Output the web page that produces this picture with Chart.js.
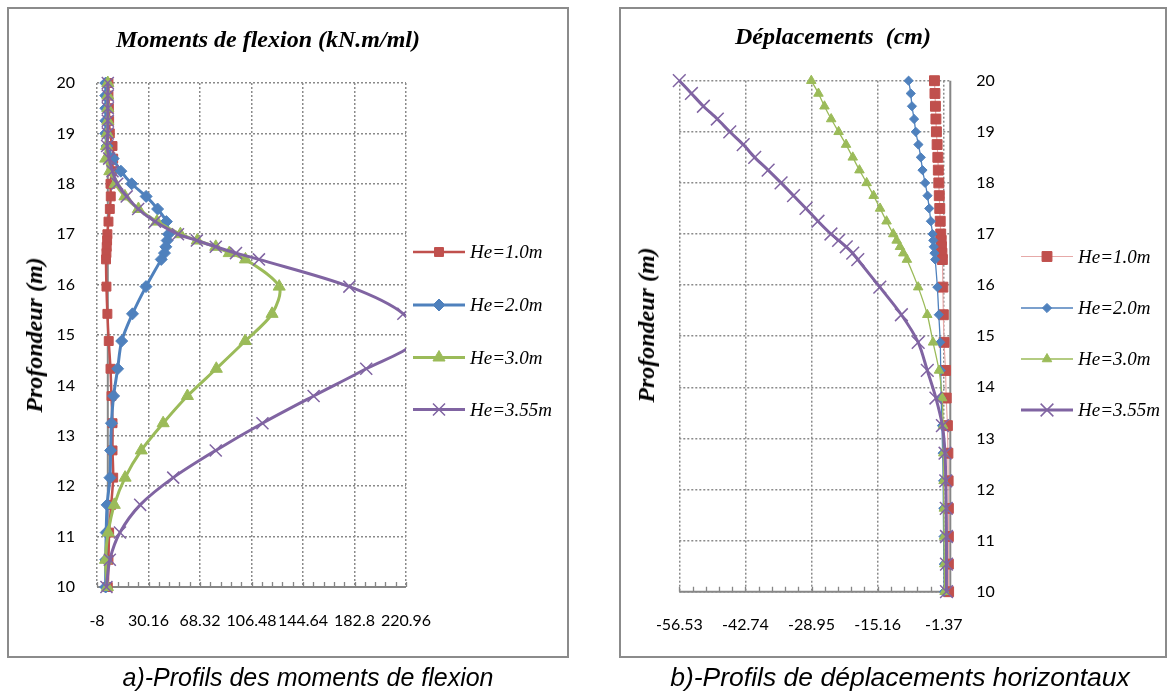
<!DOCTYPE html>
<html>
<head>
<meta charset="utf-8">
<script src="https://cdn.jsdelivr.net/npm/chart.js@4.4.1/dist/chart.umd.min.js"></script>
<style>
  body { margin: 0; background: #fff; width: 1171px; height: 693px; overflow: hidden; position: relative; }
  .box { position: absolute; border: 2px solid #8b8b8b; box-sizing: border-box; }
  canvas { position: absolute; top: 0; }
  .ttl { position: absolute; font: italic bold 24px "Liberation Serif", serif; line-height: 24px; white-space: pre; color: #000; }
  .ytl { position: absolute; font: italic bold 24px "Liberation Serif", serif; line-height: 24px; white-space: pre; color: #000;
         transform: translate(-50%, -50%) rotate(-90deg); }
  .cap { position: absolute; font-family: "Liberation Sans", Arial, sans-serif; font-style: italic; line-height: 28px;
         white-space: pre; color: #000; transform: translate(-50%, -50%); }
</style>
</head>
<body>
<div class="box" style="left:7px;top:7px;width:562px;height:651px;"></div>
<div class="box" style="left:619px;top:7px;width:548px;height:651px;"></div>

<canvas id="moments" width="600" height="693" style="left:0px;"></canvas>
<canvas id="disp" width="571" height="693" style="left:600px;"></canvas>

<div class="ttl" style="left:116px;top:27px;">Moments de flexion (kN.m/ml)</div>
<div class="ttl" style="left:735px;top:24px;">Déplacements  (cm)</div>
<div class="ytl" style="left:34px;top:335px;">Profondeur (m)</div>
<div class="ytl" style="left:646px;top:325px;">Profondeur (m)</div>
<div class="cap" style="left:308px;top:677px;font-size:25px;">a)-Profils des moments de flexion</div>
<div class="cap" style="left:900px;top:677px;font-size:26.5px;">b)-Profils de déplacements horizontaux</div>

<script>
// profondeur (m), commune aux deux graphiques
const depth = [20, 19.75, 19.5, 19.25, 19, 18.75, 18.5, 18.25, 18, 17.75, 17.5, 17.25, 17,
               16.875, 16.75, 16.625, 16.5, 15.96, 15.42, 14.88, 14.33, 13.79, 13.25,
               12.71, 12.17, 11.63, 11.08, 10.54, 10];

const seriesNames = ['He=1.0m', 'He=2.0m', 'He=3.0m', 'He=3.55m'];

// moments de flexion (kN.m/ml)
const momentHe10  = [0.5, 0.5, 0.8, 1, 1.5, 3.5, 4, 3, 2, 2.2, 1.5, 0.5, -0.3,
                     -0.5, -0.8, -1, -1.3, -1, -0.3, 0.7, 2, 2.7, 3.5, 3.5, 4, 2.5, 1, 0.5, 0];
const momentHe20  = [-1.5, -1.5, -1.5, -1.5, -1.5, -0.5, 4, 9.7, 17.7, 28.4, 36.9, 43.4, 45,
                     44, 43, 42, 39.6, 28.3, 18.3, 10.3, 7.3, 4.3, 2.7, 2.1, 1.6, -0.5, -1.2, -1.5, -1.6];
const momentHe30  = [0, 0, 0, 0, -0.5, -1, -1.5, 1.5, 5.5, 12.7, 22.7, 36.4, 53.8,
                     66.3, 80, 90, 102, 127, 121.7, 101.8, 80.4, 59, 41, 24.8, 12.8, 4.8, 0.3, -1.7, -0.3];
const momentHe355 = [0, 0, 0, 0, 0, -0.5, 1, 3.5, 7, 14, 22.5, 35, 52,
                     66, 80, 95, 112, 179, 219, 228, 191.5, 152.5, 114.6, 80, 48.5, 24, 9, 1.5, -1];

// déplacements (cm)
const dispHe10  = [-3.3, -3.2, -3.1, -3, -2.9, -2.75, -2.6, -2.5, -2.4, -2.3, -2.2, -2.1, -2,
                   -1.9, -1.85, -1.75, -1.65, -1.55, -1.45, -1.3, -1, -0.85, -0.6, -0.5, -0.45, -0.4, -0.4, -0.4, -0.35];
const dispHe20  = [-8.7, -8.25, -8, -7.55, -7.2, -6.65, -6.15, -5.8, -5.25, -4.75, -4.4, -4.05, -3.7,
                   -3.55, -3.45, -3.3, -3.15, -2.7, -2.4, -2.1, -2, -1.9, -1.75, -1.6, -1.5, -1.45, -1.4, -1.35, -1.3];
const dispHe30  = [-29, -27.5, -26.25, -24.85, -23.3, -21.75, -20.35, -18.95, -17.45, -16, -14.65, -13.3, -11.9,
                   -11.2, -10.5, -9.8, -9.05, -6.7, -4.8, -3.6, -2.35, -1.7, -1.5, -1.45, -1.4, -1.35, -1.3, -1.25, -1.2];
const dispHe355 = [-56.53, -54, -51.5, -48.6, -46, -43.2, -40.8, -38, -35.3, -32.7, -30.1, -27.6, -24.9,
                   -23.3, -21.7, -20.35, -19.3, -14.7, -10.2, -6.7, -4.8, -3, -1.65, -1.1, -0.95, -0.85, -0.8, -0.8, -0.8];

// graduations
const depthTicks = [10, 11, 12, 13, 14, 15, 16, 17, 18, 19, 20];
const momentTicks = [-8, 30.16, 68.32, 106.48, 144.64, 182.8, 220.96];
const momentTickLabels = ['-8', '30.16', '68.32', '106.48', '144.64', '182.8', '220.96'];
const dispTicks = [-56.53, -42.74, -28.95, -15.16, -1.37];
const dispTickLabels = ['-56.53', '-42.74', '-28.95', '-15.16', '-1.37'];

const RED = '#C0504D', BLUE = '#4F81BD', GREEN = '#9BBB59', PURPLE = '#8064A2';
const AXIS = '#868686', GRID = '#8a8a8a';

Chart.defaults.font.family = 'Lato, "Open Sans", sans-serif';
Chart.defaults.color = '#000';

// axes pleins, petites graduations et légende (ligne + marqueur)
const decor = {
  id: 'decor',
  beforeDatasetsDraw(chart, args, o) {
    const {ctx, chartArea: a, scales: {x}} = chart;
    ctx.save();
    ctx.strokeStyle = AXIS;
    ctx.lineWidth = 2;
    ctx.beginPath();
    ctx.moveTo(a.left, a.bottom);
    ctx.lineTo(a.right, a.bottom);
    const px = x.getPixelForValue(o.axisAt);
    ctx.moveTo(px, a.top);
    ctx.lineTo(px, a.bottom);
    ctx.stroke();
    // minor ticks
    const t = x.ticks.map(k => k.value);
    const step = (t[1] - t[0]) / 5;
    ctx.lineWidth = 1.3;
    ctx.beginPath();
    for (let v = t[0]; v <= t[t.length - 1] + 1e-6; v += step) {
      const p = Math.round(x.getPixelForValue(v)) + 0.5;
      ctx.moveTo(p, a.bottom);
      ctx.lineTo(p, a.bottom - 5);
    }
    ctx.stroke();
    ctx.restore();
  },
  afterDraw(chart, args, o) {
    const ctx = chart.ctx;
    ctx.save();
    chart.data.datasets.forEach((ds, i) => {
      const y = o.legendY[i];
      ctx.strokeStyle = ds.borderColor;
      ctx.lineWidth = ds.borderWidth;
      ctx.beginPath();
      ctx.moveTo(o.legendX, y);
      ctx.lineTo(o.legendX + o.legendLen, y);
      ctx.stroke();
      ctx.fillStyle = ds.pointBackgroundColor;
      ctx.strokeStyle = ds.pointBorderColor;
      ctx.lineWidth = ds.pointBorderWidth;
      Chart.helpers.drawPoint(ctx, {pointStyle: ds.pointStyle, radius: ds.pointRadius, rotation: 0,
                                    borderWidth: ds.pointBorderWidth}, o.legendX + o.legendLen / 2, y);
      ctx.fillStyle = '#000';
      ctx.font = 'italic 19px "Liberation Serif", serif';
      ctx.textBaseline = 'middle';
      ctx.textAlign = 'left';
      ctx.fillText(ds.label, o.legendX + o.legendLen + 5, y + 1);
    });
    ctx.restore();
  }
};

function makeSet(label, vals, color, lineColor, lineW, style, r, bw, order, clip) {
  return {
    label: label,
    data: vals.map((v, i) => ({x: v, y: depth[i]})),
    showLine: true,
    borderColor: lineColor,
    borderWidth: lineW,
    backgroundColor: color,
    pointStyle: style,
    pointRadius: r,
    pointHoverRadius: r,
    pointBackgroundColor: color,
    pointBorderColor: color,
    pointBorderWidth: bw,
    tension: 0.3,
    order: order,
    clip: clip
  };
}

function xScale(ticksArr, labels, min, max, h) {
  return {
    type: 'linear', min: min, max: max,
    border: {display: false, dash: [2, 2]},
    grid: {color: GRID, lineWidth: 1.5, drawTicks: false},
    ticks: {autoSkip: false, maxRotation: 0, minRotation: 0, padding: 24, font: {size: 16},
            callback: (v, i) => labels[i]},
    afterBuildTicks: s => { s.ticks = ticksArr.map(v => ({value: v})); },
    afterFit: s => { s.height = h; }
  };
}

function yScale(pos, pad, w) {
  return {
    type: 'linear', position: pos, min: 10, max: 20,
    border: {display: false, dash: [2, 2]},
    grid: {color: GRID, lineWidth: 1.5, drawTicks: false},
    ticks: {padding: pad, font: {size: 16}, callback: (v, i) => String(depthTicks[i])},
    afterBuildTicks: s => { s.ticks = depthTicks.map(v => ({value: v})); },
    afterFit: s => { s.width = w; }
  };
}

// a) moments de flexion
const clipM = {left: 12, top: 12, right: 0, bottom: 12};
new Chart(document.getElementById('moments'), {
  type: 'scatter',
  data: {
    datasets: [
      makeSet(seriesNames[0], momentHe10, RED, RED, 2.5, 'rect', 6.3, 1, 4, clipM),
      makeSet(seriesNames[1], momentHe20, BLUE, BLUE, 3, 'rectRot', 6, 1, 3, clipM),
      makeSet(seriesNames[2], momentHe30, GREEN, GREEN, 3, 'triangle', 7, 1, 2, clipM),
      makeSet(seriesNames[3], momentHe355, PURPLE, PURPLE, 3, 'crossRot', 8.5, 1.5, 1, clipM)
    ]
  },
  options: {
    responsive: false, animation: false, events: [],
    layout: {padding: {left: 40, right: 194, top: 83, bottom: 50}},
    scales: {
      x: xScale(momentTicks, momentTickLabels, -8, 220.96, 56),
      y: yScale('left', 22, 57)
    },
    plugins: {
      legend: {display: false}, tooltip: {enabled: false},
      decor: {axisAt: 0, legendX: 413, legendLen: 52, legendY: [252, 305, 357.5, 409.5]}
    }
  },
  plugins: [decor]
});

// b) déplacements horizontaux
const clipD = 12;
new Chart(document.getElementById('disp'), {
  type: 'scatter',
  data: {
    datasets: [
      makeSet(seriesNames[0], dispHe10, RED, '#E6A9A8', 1.2, 'rect', 7, 1, 4, clipD),
      makeSet(seriesNames[1], dispHe20, BLUE, BLUE, 1.3, 'rectRot', 4.6, 1, 3, clipD),
      makeSet(seriesNames[2], dispHe30, GREEN, GREEN, 1.3, 'triangle', 5.5, 1, 2, clipD),
      makeSet(seriesNames[3], dispHe355, PURPLE, PURPLE, 3, 'crossRot', 9, 1.5, 1, clipD)
    ]
  },
  options: {
    responsive: false, animation: false, events: [],
    layout: {padding: {left: 79.3, right: 160, top: 80.7, bottom: 50}},
    scales: {
      x: xScale(dispTicks, dispTickLabels, -56.53, 0, 51.3),
      y: yScale('right', 26, 60.7)
    },
    plugins: {
      legend: {display: false}, tooltip: {enabled: false},
      decor: {axisAt: 0, legendX: 421, legendLen: 52, legendY: [256.5, 308, 359, 410]}
    }
  },
  plugins: [decor]
});
</script>
</body>
</html>
